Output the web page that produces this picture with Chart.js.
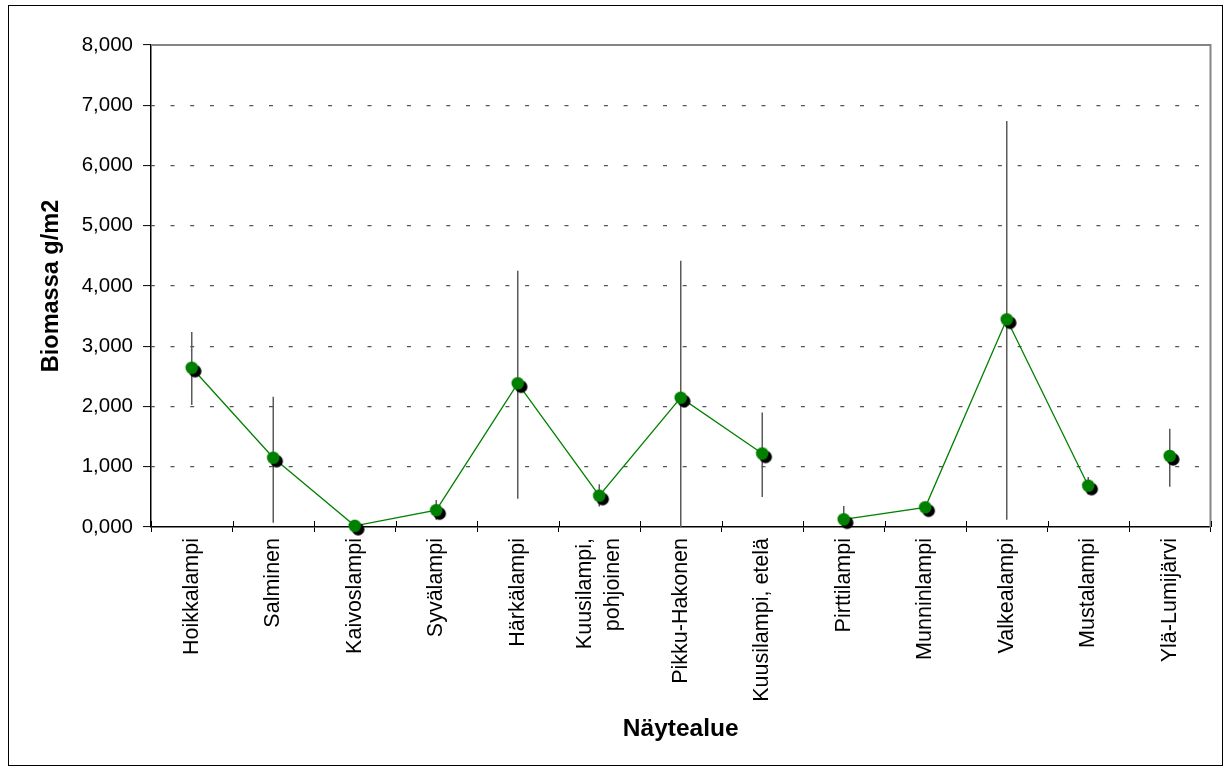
<!DOCTYPE html>
<html>
<head>
<meta charset="utf-8">
<script src="https://cdn.jsdelivr.net/npm/chart.js@4.4.1/dist/chart.umd.min.js"></script>
<style>
  html, body { margin: 0; padding: 0; background: #fff; }
  #wrap { position: relative; width: 1225px; height: 771px; }
  #frame { position: absolute; left: 8px; top: 5px; width: 1215px; height: 761px;
           border: 1.5px solid #000; box-sizing: border-box; }
  canvas { position: absolute; left: 0; top: 0; }
</style>
</head>
<body>
<div id="wrap">
  <div id="frame"></div>
  <canvas id="chart" width="1225" height="771"></canvas>
</div>
<script>
// Sampling areas (a line break marks a wrapped label)
const categories = [
  'Hoikkalampi', 'Salminen', 'Kaivoslampi', 'Syvälampi', 'Härkälampi',
  'Kuusilampi,\npohjoinen', 'Pikku-Hakonen', 'Kuusilampi, etelä', 'Pirttilampi',
  'Munninlampi', 'Valkealampi', 'Mustalampi', 'Ylä-Lumijärvi'
];
// Mean biomass per area
const biomass = [2.644, 1.150, 0.020, 0.280, 2.385, 0.520, 2.146, 1.220, 0.128, 0.327, 3.447, 0.686, 1.180];
// Upper and lower ends of the deviation bars
const errorHigh = [3.236, 2.163, null, 0.450, 4.254, 0.710, 4.420, 1.900, 0.350, 0.400, 6.740, 0.830, 1.630];
const errorLow  = [2.025, 0.070, null, 0.120, 0.470, 0.340, 0.000, 0.500, 0.000, 0.250, 0.120, 0.540, 0.670];
// Points after which the connecting line is not drawn
const unlinkedAfter = [7, 11];
// Value axis labels
const yTickLabels = ['0,000', '1,000', '2,000', '3,000', '4,000', '5,000', '6,000', '7,000', '8,000'];

const FONT = "'Liberation Sans', Arial, sans-serif";
Chart.defaults.font.family = FONT;
Chart.defaults.color = '#000';

// Marker: green dot with a black drop shadow down-right
function markerImage() {
  const c = document.createElement('canvas');
  c.width = 30; c.height = 30;
  const g = c.getContext('2d');
  g.fillStyle = '#000';
  g.beginPath(); g.arc(18.4, 18.4, 6.3, 0, Math.PI * 2); g.fill();
  g.fillStyle = '#008000';
  g.beginPath(); g.arc(15, 15, 6.3, 0, Math.PI * 2); g.fill();
  return c;
}

// Deviation bars, plot frame (top/right) and inner category ticks
const errorBars = {
  id: 'errorBars',
  beforeDatasetsDraw(chart) {
    const { ctx, chartArea: a, scales: { x, y } } = chart;
    ctx.save();
    ctx.strokeStyle = '#858585';
    ctx.lineWidth = 2;
    ctx.beginPath();
    ctx.moveTo(a.left, a.top);
    ctx.lineTo(a.right, a.top);
    ctx.lineTo(a.right, a.bottom);
    ctx.stroke();

    ctx.strokeStyle = '#000';
    ctx.lineWidth = 1;
    for (let i = 0; i <= categories.length; i++) {
      const px = Math.round(x.getPixelForValue(i - 0.5)) + 0.5;
      ctx.beginPath();
      ctx.moveTo(px, a.bottom);
      ctx.lineTo(px, a.bottom - 6);
      ctx.stroke();
    }

    ctx.strokeStyle = '#5a5a5a';
    ctx.lineWidth = 1.5;
    categories.forEach((_, i) => {
      if (errorHigh[i] == null) return;
      const px = x.getPixelForValue(i);
      ctx.beginPath();
      ctx.moveTo(px, y.getPixelForValue(errorHigh[i]));
      ctx.lineTo(px, y.getPixelForValue(errorLow[i]));
      ctx.stroke();
    });
    ctx.restore();
  }
};

new Chart(document.getElementById('chart'), {
  type: 'line',
  data: {
    labels: categories,
    datasets: [{
      data: biomass,
      borderColor: '#008000',
      borderWidth: 1.3,
      pointStyle: markerImage(),
      pointRadius: 6,
      clip: false,
      segment: {
        borderColor: c => unlinkedAfter.includes(c.p0DataIndex) ? 'rgba(0,0,0,0)' : undefined
      }
    }]
  },
  options: {
    responsive: false,
    animation: false,
    events: [],
    devicePixelRatio: 1,
    layout: { padding: { left: 10, top: 45, right: 14.5, bottom: 0 } },
    plugins: { legend: { display: false }, tooltip: { enabled: false } },
    scales: {
      x: {
        type: 'category',
        offset: true,
        grid: { offset: true, drawOnChartArea: false, tickLength: 5, tickColor: '#000', tickWidth: 1 },
        border: { color: '#000', width: 1.5 },
        ticks: {
          autoSkip: false,
          minRotation: 90,
          maxRotation: 90,
          padding: 6,
          labelOffset: -14,
          color: '#000',
          font: { size: 21.5, lineHeight: 14 / 21.5 },
          callback: (v, i) => {
            const parts = categories[i].split('\n');
            return parts.length > 1 ? [parts[0], '', parts[1]] : ['', parts[0]];
          }
        },
        title: {
          display: true, text: 'Näytealue', color: '#000',
          font: { size: 24.5, weight: 'bold' },
          padding: { top: 0, bottom: 27 }
        },
        afterFit(s) { s.height = 244; }
      },
      y: {
        min: 0,
        max: 8,
        ticks: {
          stepSize: 1, padding: 10, color: '#000',
          font: { size: 20.5 },
          callback: (v, i) => yTickLabels[i]
        },
        grid: {
          color: c => (c.tick && (c.tick.value === 0 || c.tick.value === 8)) ? 'rgba(0,0,0,0)' : '#555',
          lineWidth: 1.2,
          tickLength: 8,
          tickColor: '#000',
          tickWidth: 1
        },
        border: { color: '#000', width: 1.5, dash: [4, 15.7], dashOffset: 0.7 },
        title: {
          display: true, text: 'Biomassa g/m2', color: '#000',
          font: { size: 23.5, weight: 'bold' },
          padding: { top: 27, bottom: 0 }
        },
        afterFit(s) { s.width = 141; }
      }
    }
  },
  plugins: [errorBars]
});
</script>
</body>
</html>
